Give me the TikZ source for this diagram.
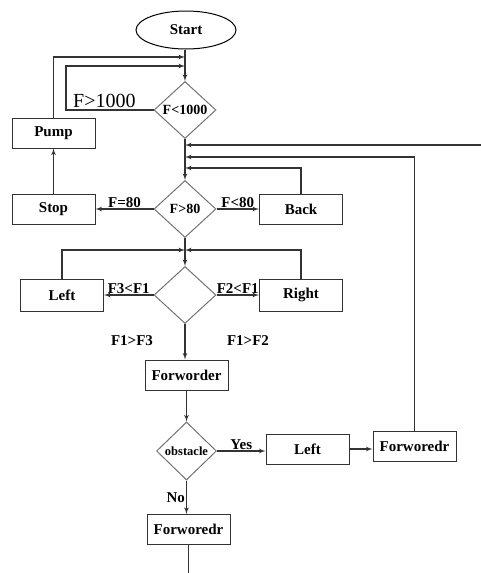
\documentclass[tikz,border=0pt]{standalone}
\usepackage{fontspec}
\setmainfont{Liberation Serif}
\usetikzlibrary{arrows}
\usetikzlibrary{shapes.geometric}
\usetikzlibrary{positioning}

\begin{document}
\begin{tikzpicture}[x=1pt, y=-1pt,
    box/.style={draw=black!80, line width=1pt, minimum width=83pt, minimum height=30pt,
      inner sep=1pt, font=\fontsize{15}{18}\selectfont\bfseries},
    test/.style={draw=black!55, line width=1pt, diamond, inner sep=0pt,
      minimum width=62pt, minimum height=57pt, font=\fontsize{14}{16}\selectfont\bfseries},
    tag/.style={font=\fontsize{15}{18}\selectfont\bfseries, inner sep=1pt},
    flow/.style={draw=black!80, line width=1.2pt, -latex'}]
  \useasboundingbox (0,0) rectangle (481,573);

  % nodes
  \node[draw, ellipse, line width=1pt, minimum width=100pt, minimum height=38pt,
    font=\fontsize{15}{18}\selectfont\bfseries] (start) at (186,30) {Start};
  \node[test] (fuel) at (185,110) {F<1000};
  \node[box] (pump) at (53.5,133) {Pump};
  \node[box] (stop) at (53.5,209) {Stop};
  \node[test] (speed) at (185,209) {F>80};
  \node[box] (back) at (301,209) {Back};
  \node[test] (side) at (185,295) {};
  \node[box, minimum height=32pt] (left) at (62,295) {Left};
  \node[box, minimum height=32pt] (right) at (301,295) {Right};
  \node[box] (fwd) at (186.5,375) {Forworder};
  \node[test, minimum width=60pt, minimum height=58pt,
    font=\fontsize{12.5}{15}\selectfont\bfseries] (obst) at (186.5,451) {obstacle};
  \node[box] (turn) at (307.5,449) {Left};
  \node[box] (fwdb) at (414.5,446) {Forworedr};
  \node[box] (fwdc) at (188.5,529.5) {Forworedr};

  % joints on the main line
  \coordinate (j1) at (185,57);
  \coordinate (j2) at (185,66);
  \coordinate (k1) at (66,110);
  \coordinate (j3) at (185,145);
  \coordinate (j4) at (185,157);
  \coordinate (j5) at (185,168);
  \coordinate (j6) at (185,250);
  \coordinate (edge) at (481,145);

  % connectors
  \draw[flow] (start.south -| fuel) -- (fuel);
  \draw[flow] (pump.north) |- (j1);
  \draw[flow] (fuel.west) -- (k1) |- (j2);
  \node[font=\fontsize{20}{22}\selectfont, anchor=south west, inner sep=0pt] at (73,108) {F>1000};
  \draw[flow] (fuel) -- (speed);
  \draw[flow] (edge) -- (j3);
  \draw[flow] (fwdb.north) |- (j4);
  \draw[flow] (back.north) |- (j5);
  \draw[flow] (stop) -- (pump);
  \draw[flow] (speed.west) -- (stop.east) node[tag, midway, above] {F=80};
  \draw[flow] (speed.east) -- (back.west) node[tag, midway, above] {F<80};
  \draw[flow] (speed) -- (side);
  \draw[flow] (left.north) |- (j6);
  \draw[flow] (right.north) |- (j6);
  \draw[flow] (side.west) -- (left.east) node[tag, midway, above] {F3<F1};
  \draw[flow] (side.east) -- (right.west) node[tag, midway, above] {F2<F1};
  \node[tag] (c13) at (132,341) {F1>F3};
  \node[tag] (c12) at (248,341) {F1>F2};
  \draw[flow] (side.south) -- (side.south |- fwd.north);
  \draw[flow] (fwd.south -| obst) -- (obst);
  \draw[flow] (obst.east) -- (obst.east -| turn.west) node[tag, midway, above] {Yes};
  \draw[flow] (turn.east) -- (turn.east -| fwdb.west);
  \draw[flow] (obst.south) -- (obst.south |- fwdc.north) node[tag, midway, left] {No};
  \draw[draw=black!80, line width=1pt] (fwdc.south) -- ++(0,30);
\end{tikzpicture}
\end{document}
